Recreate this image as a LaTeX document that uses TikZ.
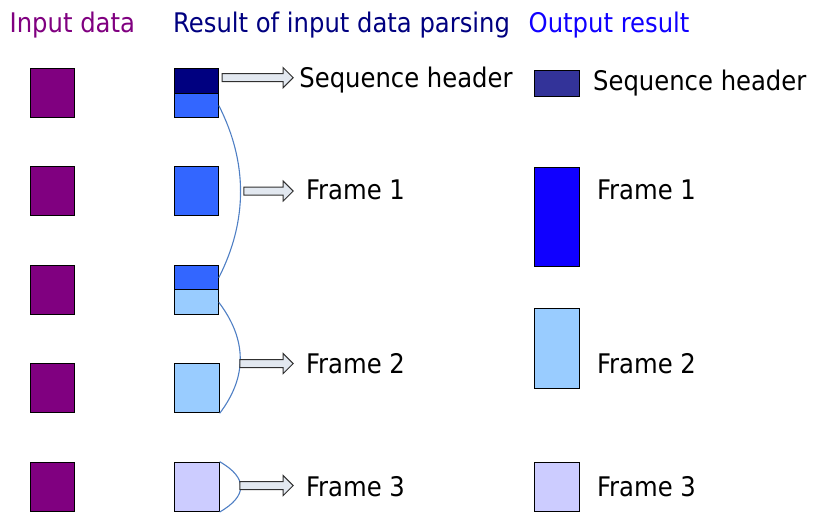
\documentclass[tikz,border=0pt]{standalone}
\usepackage{fontspec}
\setmainfont{DejaVu Sans Condensed}
\usepackage{tikz}
\usetikzlibrary{arrows,shapes.arrows}

\definecolor{inpurple}{HTML}{800080}
\definecolor{hdrnavy}{HTML}{000080}
\definecolor{frmblue}{HTML}{3366FF}
\definecolor{frmlight}{HTML}{99CCFF}
\definecolor{frmlav}{HTML}{CCCCFF}
\definecolor{outhdr}{HTML}{333399}
\definecolor{outblue}{HTML}{1000FF}
\definecolor{linkblue}{HTML}{4F7FC4}
\definecolor{arrowfill}{HTML}{E2E8F0}
\definecolor{arrowline}{HTML}{303030}

\begin{document}
\begin{tikzpicture}[x=1pt,y=-1pt,
                    every node/.style={font=\fontsize{27}{32}\selectfont},
                    cell/.style={draw,line width=1pt,inner sep=0pt,anchor=north west,minimum width=43.5pt},
                    txt/.style={anchor=base west,inner sep=0pt},
                    link/.style={draw=linkblue,line width=1.1pt},
                    fat arrow/.style={single arrow,draw=arrowline,fill=arrowfill,line width=1pt,
                                      inner sep=3.5pt,minimum width=19.5pt,single arrow head extend=6pt,anchor=tail}]
  \useasboundingbox (0,0) rectangle (814,523);

  \node[txt,text=inpurple] (t1) at (9.5,32) {Input data};
  \node[txt,text=hdrnavy] (t2) at (173,32) {Result of input data parsing};
  \node[txt,text=outblue] (t3) at (528.5,32) {Output result};

  \node[cell,fill=inpurple,minimum height=49pt] (i1) at (30.3,68.3) {};
  \node[cell,fill=inpurple,minimum height=49pt] (i2) at (30.3,166.3) {};
  \node[cell,fill=inpurple,minimum height=49pt] (i3) at (30.3,264.7) {};
  \node[cell,fill=inpurple,minimum height=49pt] (i4) at (30.3,363.3) {};
  \node[cell,fill=inpurple,minimum height=49pt] (i5) at (30.3,461.7) {};

  \node[cell,fill=hdrnavy,minimum height=24.4pt] (m1a) at (174.3,68.3) {};
  \node[cell,fill=frmblue,minimum height=24.6pt] (m1b) at (174.3,92.7) {};
  \node[cell,fill=frmblue,minimum height=49pt] (m2) at (174.3,166.3) {};
  \node[cell,fill=frmblue,minimum height=24.3pt] (m3a) at (174.3,265) {};
  \node[cell,fill=frmlight,minimum height=25pt] (m3b) at (174.3,289.3) {};
  \node[cell,fill=frmlight,minimum height=49pt,minimum width=44.4pt] (m4) at (174.3,363.3) {};
  \node[cell,fill=frmlav,minimum height=49.3pt,minimum width=44.4pt] (m5) at (174.3,461.7) {};

  \node[cell,fill=outhdr,minimum height=25.7pt,minimum width=44.7pt] (o1) at (534.3,70) {};
  \node[cell,fill=outblue,minimum height=99pt,minimum width=44.4pt] (o2) at (534.3,166.7) {};
  \node[cell,fill=frmlight,minimum height=80pt,minimum width=44.4pt] (o3) at (534.3,308.3) {};
  \node[cell,fill=frmlav,minimum height=49.3pt,minimum width=44.4pt] (o4) at (534.3,461.7) {};

  \path[link]
    (m1b.east) .. controls +(29,57) and +(29,-57) .. (m3a.east)
    (m3b.east) .. controls +(28,37) and +(28,-37) .. (m4.south east)
    (m5.north east) .. controls +(28,16) and +(28,-16) .. (m5.south east);

  \node[fat arrow,minimum height=71pt] (a1) at (221.7,77.7) {};
  \node[fat arrow,minimum height=49.4pt] (a2) at (243.3,191) {};
  \node[fat arrow,minimum height=53.4pt] (a3) at (239.3,363.5) {};
  \node[fat arrow,minimum height=53.4pt] (a4) at (239.3,485.5) {};

  \node[txt] (l1) at (299.2,87.7) {Sequence header};
  \node[txt] (l2) at (306,199) {Frame 1};
  \node[txt] (l3) at (306,373) {Frame 2};
  \node[txt] (l4) at (306,496) {Frame 3};

  \node[txt] (r1) at (593,90) {Sequence header};
  \node[txt] (r2) at (597,199) {Frame 1};
  \node[txt] (r3) at (597,373) {Frame 2};
  \node[txt] (r4) at (597,496) {Frame 3};
\end{tikzpicture}
\end{document}
